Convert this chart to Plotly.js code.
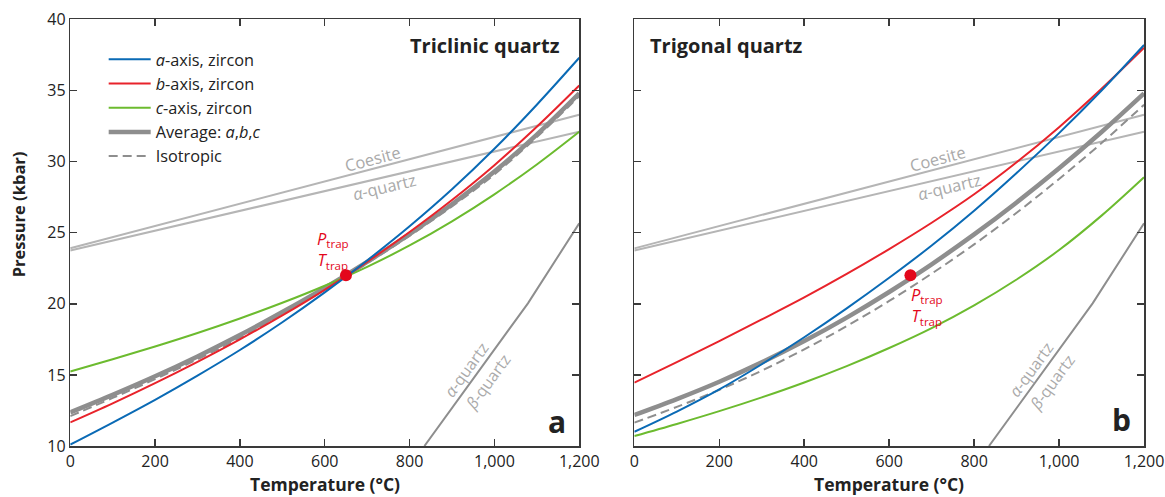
<!DOCTYPE html>
<html>
<head>
<meta charset="utf-8">
<script src="https://cdn.plot.ly/plotly-3.0.1.min.js"></script>
<style>html,body{margin:0;padding:0;background:#fff;}#chart{width:1165px;height:497px;}</style>
</head>
<body>
<div id="chart"></div>
<script>
// Temperature grid (°C)
const temps = [0, 100, 200, 300, 400, 500, 600, 700, 800, 900, 1000, 1100, 1200];

// Panel a: triclinic quartz (pressure, kbar)
const aTriclinic   = [10.1, 11.65, 13.25, 14.95, 16.75, 18.7, 20.8, 23.05, 25.45, 28.05, 30.9, 34.0, 37.3];
const bTriclinic   = [11.66, 13.0, 14.42, 15.92, 17.5, 19.18, 20.98, 22.95, 25.05, 27.3, 29.75, 32.45, 35.35];
const cTriclinic   = [15.24, 16.1, 17.0, 17.95, 18.97, 20.07, 21.27, 22.6, 24.1, 25.8, 27.7, 29.8, 32.1];
const avgTriclinic = [12.37, 13.6, 14.9, 16.3, 17.8, 19.42, 21.12, 22.95, 24.9, 27.0, 29.3, 31.9, 34.8];
const isoTriclinic = [12.1, 13.38, 14.7, 16.1, 17.6, 19.25, 21.0, 22.85, 24.78, 26.85, 29.1, 31.72, 34.6];

// Panel b: trigonal quartz (pressure, kbar)
const aTrigonal   = [11.0, 12.42, 13.98, 15.75, 17.65, 19.68, 21.83, 24.1, 26.55, 29.2, 32.0, 35.0, 38.2];
const bTrigonal   = [14.45, 15.9, 17.38, 18.9, 20.45, 22.1, 23.85, 25.7, 27.7, 29.95, 32.42, 35.12, 38.0];
const cTrigonal   = [10.7, 11.55, 12.45, 13.42, 14.47, 15.62, 16.89, 18.29, 19.89, 21.71, 23.78, 26.2, 28.9];
const avgTrigonal = [12.18, 13.3, 14.52, 15.88, 17.38, 19.03, 20.83, 22.78, 24.88, 27.13, 29.53, 32.08, 34.8];
const isoTrigonal = [11.64, 12.75, 13.95, 15.3, 16.8, 18.43, 20.2, 22.12, 24.18, 26.4, 28.78, 31.3, 34.0];

// Phase boundaries
const coesiteT = [0, 1200];
const coesiteP = [23.9, 33.3];
const alphaQzT = [0, 1200];
const alphaQzP = [23.75, 32.1];
const abT = [835, 1079, 1200];
const abP = [10, 20.03, 25.66];

// Entrapment conditions
const trapT = [650];
const trapP = [22];

const seriesNames = ['<i>a</i>-axis, zircon', '<i>b</i>-axis, zircon', '<i>c</i>-axis, zircon', 'Average: <i>a</i>,<i>b</i>,<i>c</i>', 'Isotropic'];

const FONT = 'Open Sans, Noto Sans, sans-serif';
const BLUE = '#0a6ab5', RED = '#e8232b', GREEN = '#6cbb2f', GRAY = '#8e8e8e', LGRAY = '#b5b5b5', TRAPRED = '#e3071b';

function panel(xa, ya, a, b, c, avg, iso, showLeg) {
  const tr = [];
  const base = {x: temps, mode: 'lines', xaxis: xa, yaxis: ya, hoverinfo: 'skip'};
  tr.push({x: coesiteT, y: coesiteP, mode: 'lines', xaxis: xa, yaxis: ya, line: {color: LGRAY, width: 2}, showlegend: false});
  tr.push({x: alphaQzT, y: alphaQzP, mode: 'lines', xaxis: xa, yaxis: ya, line: {color: LGRAY, width: 2}, showlegend: false});
  tr.push({x: abT, y: abP, mode: 'lines', xaxis: xa, yaxis: ya, line: {color: GRAY, width: 2}, showlegend: false});
  tr.push(Object.assign({}, base, {y: iso, name: seriesNames[4], line: {color: GRAY, width: 2, dash: '9px,5px', shape: 'spline'}, showlegend: showLeg, legendrank: 5}));
  tr.push(Object.assign({}, base, {y: avg, name: seriesNames[3], line: {color: GRAY, width: 4.5, shape: 'spline'}, showlegend: showLeg, legendrank: 4}));
  tr.push(Object.assign({}, base, {y: c, name: seriesNames[2], line: {color: GREEN, width: 2, shape: 'spline'}, showlegend: showLeg, legendrank: 3}));
  tr.push(Object.assign({}, base, {y: b, name: seriesNames[1], line: {color: RED, width: 2, shape: 'spline'}, showlegend: showLeg, legendrank: 2}));
  tr.push(Object.assign({}, base, {y: a, name: seriesNames[0], line: {color: BLUE, width: 2, shape: 'spline'}, showlegend: showLeg, legendrank: 1}));
  tr.push({x: trapT, y: trapP, mode: 'markers', xaxis: xa, yaxis: ya, marker: {color: TRAPRED, size: 12}, showlegend: false});
  return tr;
}

const data = [].concat(
  panel('x', 'y', aTriclinic, bTriclinic, cTriclinic, avgTriclinic, isoTriclinic, true),
  panel('x2', 'y2', aTrigonal, bTrigonal, cTrigonal, avgTrigonal, isoTrigonal, false)
);

const axisCommon = {
  showgrid: false, zeroline: false, showline: true, linecolor: '#3a3a3a', linewidth: 1.5,
  mirror: 'ticks', ticks: 'inside', ticklen: 7, tickwidth: 1.5, tickcolor: '#3a3a3a',
  tickfont: {family: FONT, size: 16, color: '#222'}
};
const xCommon = Object.assign({}, axisCommon, {range: [0, 1200], dtick: 200, tick0: 0, tickformat: ','});
const yCommon = Object.assign({}, axisCommon, {range: [10, 40], dtick: 5, tick0: 10});

function labels(xr, yr, trapX, trapY) {
  return [
    {xref: xr, yref: yr, x: 713, y: 30.25, text: 'Coesite', showarrow: false, textangle: -14.7, font: {family: FONT, size: 16.5, color: '#aaaaaa'}},
    {xref: xr, yref: yr, x: 742, y: 28.25, text: '<i>α</i>-quartz', showarrow: false, textangle: -13.5, font: {family: FONT, size: 16.5, color: '#aaaaaa'}},
    {xref: xr, yref: yr, x: 933, y: 15.35, text: '<i>α</i>-quartz', showarrow: false, textangle: -54, font: {family: FONT, size: 16, color: '#aaaaaa'}},
    {xref: xr, yref: yr, x: 984, y: 14.5, text: '<i>β</i>-quartz', showarrow: false, textangle: -54, font: {family: FONT, size: 16, color: '#aaaaaa'}},
    {xref: xr, yref: yr, x: trapX, y: trapY, text: '<i>P</i><sub>trap</sub><br><i>T</i><sub>trap</sub>', showarrow: false, align: 'center', font: {family: FONT, size: 16.5, color: TRAPRED}}
  ];
}

const layout = {
  width: 1165, height: 497,
  margin: {l: 0, r: 0, t: 0, b: 0},
  paper_bgcolor: '#fff', plot_bgcolor: '#fff',
  font: {family: FONT, color: '#222'},
  separators: '.,',
  xaxis: Object.assign({}, xCommon, {domain: [0.0603, 0.4972], anchor: 'y'}),
  yaxis: Object.assign({}, yCommon, {domain: [0.1026, 0.961], anchor: 'x'}),
  xaxis2: Object.assign({}, xCommon, {domain: [0.5445, 0.982], anchor: 'y2'}),
  yaxis2: Object.assign({}, yCommon, {domain: [0.1026, 0.961], anchor: 'x2', showticklabels: false}),
  showlegend: true,
  legend: {x: 0.089, y: 0.915, xanchor: 'left', yanchor: 'top', bgcolor: 'rgba(0,0,0,0)', borderwidth: 0,
           font: {family: FONT, size: 16.3, color: '#222'}, itemwidth: 42, tracegroupgap: 0, traceorder: 'normal'},
  annotations: [].concat(
    labels('x', 'y', 620, 23.8),
    labels('x2', 'y2', 690, 19.85),
    [
      {xref: 'paper', yref: 'paper', x: 0.482, y: 0.909, xanchor: 'right', yanchor: 'middle', text: '<b>Triclinic quartz</b>', showarrow: false, font: {family: FONT, size: 20, color: '#222'}},
      {xref: 'paper', yref: 'paper', x: 0.556, y: 0.909, xanchor: 'left', yanchor: 'middle', text: '<b>Trigonal quartz</b>', showarrow: false, font: {family: FONT, size: 20, color: '#222'}},
      {xref: 'paper', yref: 'paper', x: 0.478, y: 0.152, xanchor: 'center', yanchor: 'middle', text: '<b>a</b>', showarrow: false, font: {family: FONT, size: 30, color: '#222'}},
      {xref: 'paper', yref: 'paper', x: 0.963, y: 0.155, xanchor: 'center', yanchor: 'middle', text: '<b>b</b>', showarrow: false, font: {family: FONT, size: 30, color: '#222'}},
      {xref: 'paper', yref: 'paper', x: 0.2787, y: 0.026, xanchor: 'center', yanchor: 'middle', text: '<b>Temperature (°C)</b>', showarrow: false, font: {family: FONT, size: 17.5, color: '#222'}},
      {xref: 'paper', yref: 'paper', x: 0.7632, y: 0.026, xanchor: 'center', yanchor: 'middle', text: '<b>Temperature (°C)</b>', showarrow: false, font: {family: FONT, size: 17.5, color: '#222'}},
      {xref: 'paper', yref: 'paper', x: 0.0155, y: 0.569, xanchor: 'center', yanchor: 'middle', text: '<b>Pressure (kbar)</b>', textangle: -90, showarrow: false, font: {family: FONT, size: 16.5, color: '#222'}}
    ]
  )
};

Plotly.newPlot('chart', data, layout, {staticPlot: true, displayModeBar: false});
</script>
</body>
</html>
